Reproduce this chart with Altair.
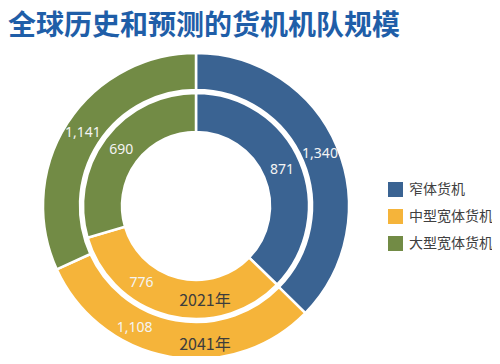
import altair as alt
import pandas as pd

# ---- data ----
categories = ["窄体货机", "中型宽体货机", "大型宽体货机"]
values_2021 = [871, 776, 690]
values_2041 = [1340, 1108, 1141]
colors = ["#3A6392", "#F5B43A", "#728B45"]
title_text = "全球历史和预测的货机机队规模"
year_labels = ["2021年", "2041年"]
moved_label_category = "中型宽体货机"  # its labels sit off-centre to clear the year text

order_idx = list(range(len(categories)))
df21 = pd.DataFrame({"category": categories, "value": values_2021, "order": order_idx})
df41 = pd.DataFrame({"category": categories, "value": values_2041, "order": order_idx})

# ---- layout ----
CX, CY = 188, 158
R_IN_IN, R_IN_OUT = 74, 113
R_OUT_IN, R_OUT_OUT = 116, 153

color = alt.Color(
    "category:N",
    scale=alt.Scale(domain=categories, range=colors),
    legend=alt.Legend(
        title=None, orient="none", legendX=380, legendY=134,
        symbolType="square", symbolSize=225, symbolStrokeWidth=0,
        labelFontSize=14, labelFont="Noto Sans CJK SC", labelColor="#404040",
        rowPadding=12, labelOffset=6,
    ),
)


def ring(df, r_in, r_out, ldx, ldy):
    base = alt.Chart(df).encode(
        theta=alt.Theta("value:Q", stack=True),
        order=alt.Order("order:Q"),
        x=alt.value(CX),
        y=alt.value(CY),
    )
    arc = base.mark_arc(radius=r_out, radius2=r_in, stroke="white", strokeWidth=2.5).encode(color=color)
    tstyle = dict(radius=(r_in + r_out) / 2, fontSize=14, color="#F4F4F4", font="Noto Sans")
    txt_main = base.transform_calculate(
        lbl=f"datum.category === '{moved_label_category}' ? '' : format(datum.value, ',')"
    ).mark_text(**tstyle).encode(text="lbl:N")
    txt_moved = base.transform_calculate(
        lbl=f"datum.category === '{moved_label_category}' ? format(datum.value, ',') : ''"
    ).mark_text(dx=ldx, dy=ldy, **tstyle).encode(text="lbl:N")
    return arc, txt_main, txt_moved


arc21, t21a, t21b = ring(df21, R_IN_IN, R_IN_OUT, -32, -14)
arc41, t41a, t41b = ring(df41, R_OUT_IN, R_OUT_OUT, -38, -10)

year21 = alt.Chart(pd.DataFrame({"label": [year_labels[0]]})).mark_text(
    fontSize=16, font="Noto Sans CJK SC", color="#3D3D3D"
).encode(text="label:N", x=alt.value(CX + 9), y=alt.value(CY + 95))
year41 = alt.Chart(pd.DataFrame({"label": [year_labels[1]]})).mark_text(
    fontSize=16, font="Noto Sans CJK SC", color="#3D3D3D"
).encode(text="label:N", x=alt.value(CX + 9), y=alt.value(CY + 139))

chart = (
    alt.layer(arc21, t21a, t21b, arc41, t41a, t41b, year21, year41)
    .resolve_scale(theta="independent")
    .properties(
        width=484,
        height=308,
        padding={"top": 40, "left": 0, "right": 0, "bottom": 0},
        autosize=alt.AutoSizeParams(type="none"),
        title=alt.Title(
            title_text, anchor="start", fontSize=28, font="Noto Sans CJK SC",
            fontWeight="bold", color="#1F5EA8", offset=7,
        ),
    )
    .configure_view(stroke=None)
)

chart.save("out.html", embed_options={"renderer": "svg", "actions": False})
